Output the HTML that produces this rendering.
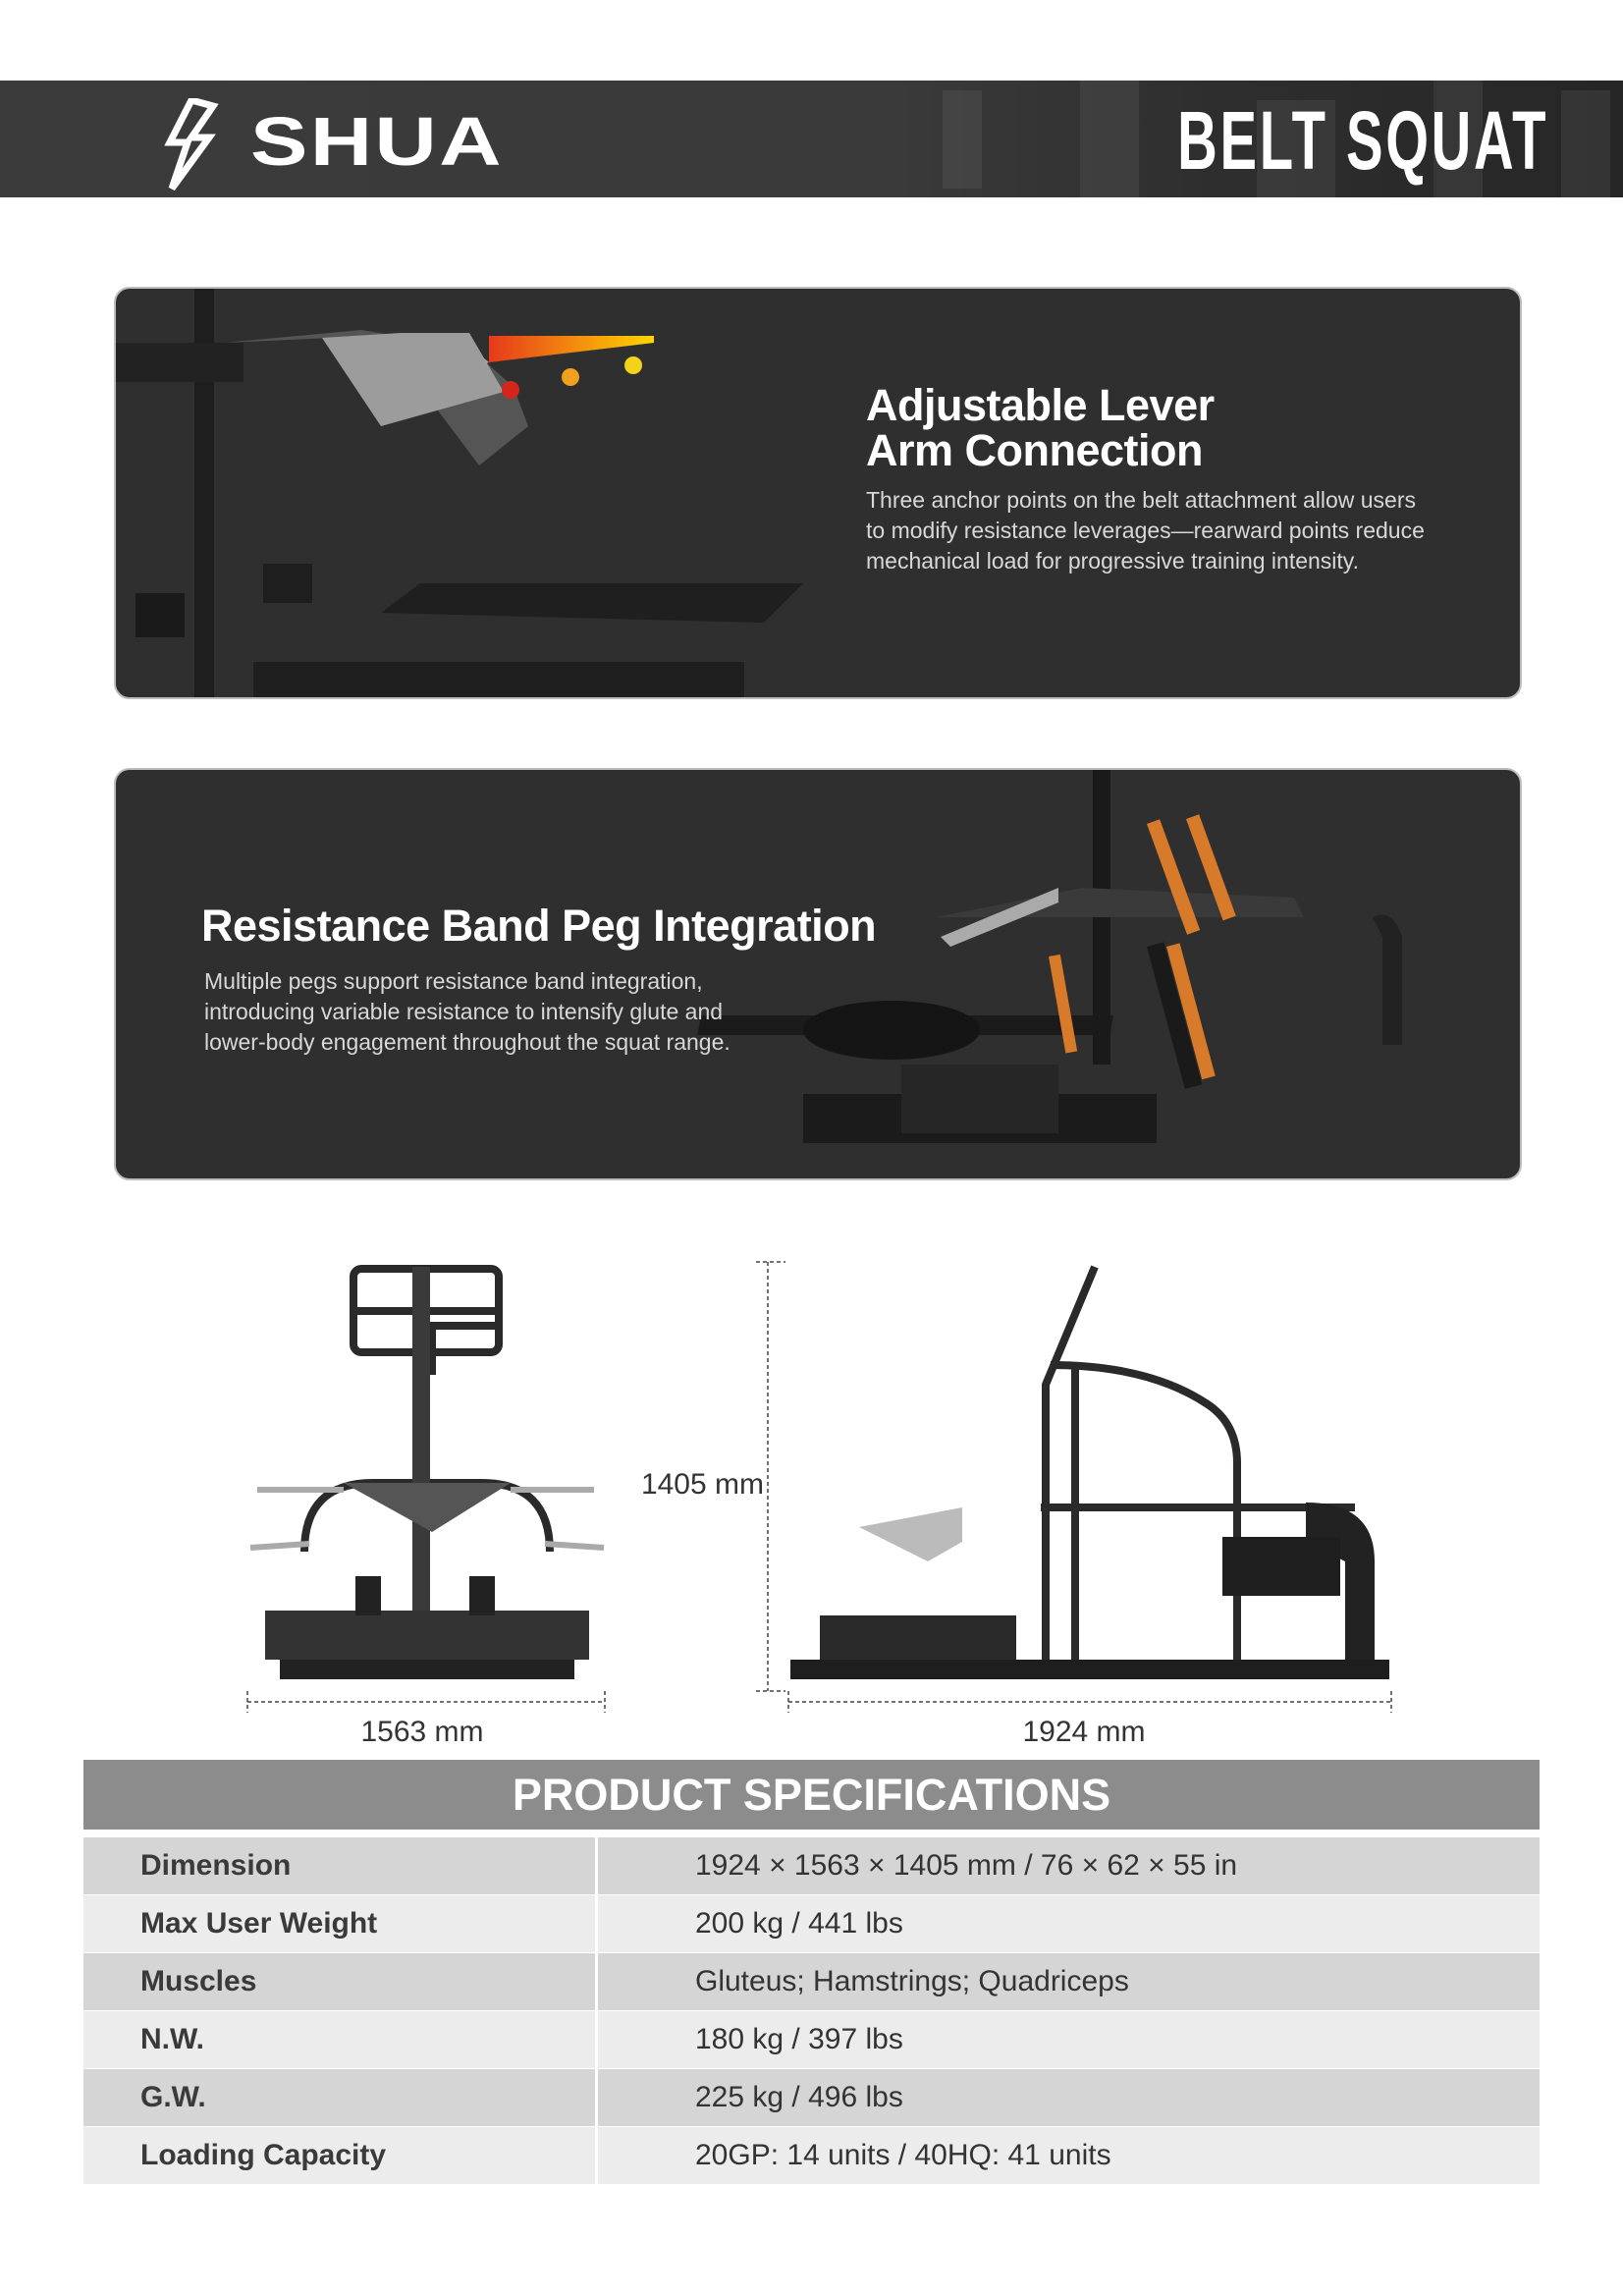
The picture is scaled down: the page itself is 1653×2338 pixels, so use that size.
<!DOCTYPE html>
<html><head><meta charset="utf-8"><style>
body{margin:0;width:1653px;height:2338px;background:#fff;position:relative;font-family:"Liberation Sans",sans-serif;overflow:hidden}
.a{position:absolute}
.hdr{left:0;top:82px;width:1653px;height:119px;background:linear-gradient(90deg,#3b3b3b 0%,#3a3a3a 55%,#2e2e2e 75%,#262626 100%)}
.panel{left:116px;width:1434px;height:420px;background:#2f2f2f;border-radius:16px;border:2px solid #bdbdbd;box-sizing:border-box;overflow:hidden}
.h{color:#fff;font-size:45px;font-weight:bold;line-height:46px;letter-spacing:-0.5px}
.p{color:#d8d8d8;font-size:23px;line-height:31px}
.row{left:85px;width:1483px;height:58px;font-size:30px;color:#333;line-height:58px}
.row span{position:absolute}
.l{left:58px;font-weight:bold;color:#3a3a3a}.v{left:623px}
.dk{background:#d5d5d5}.lt{background:#ececec}
.dim{font-size:30px;color:#333}
</style></head><body>
<div class="a hdr"></div>
<svg class="a" style="left:900px;top:82px" width="753" height="119"><g opacity="0.12" fill="#999"><rect x="60" y="10" width="40" height="100"/><rect x="200" y="0" width="60" height="119"/><rect x="380" y="20" width="80" height="99"/><rect x="560" y="0" width="50" height="119"/><rect x="690" y="10" width="50" height="109"/></g></svg>
<svg class="a" style="left:165px;top:100px" width="70" height="95"><path d="M30 2 L8 45 L26 45 L10 92 L48 40 L30 40 L52 8 Z" fill="none" stroke="#fff" stroke-width="7" stroke-linejoin="miter"/></svg>
<div class="a" style="left:255px;top:104px;color:#fff;font-size:70px;font-weight:bold;letter-spacing:2px;line-height:80px;transform:scaleX(1.25);transform-origin:left center">SHUA</div>
<div class="a" style="right:76px;top:98px;color:#fff;font-size:84px;font-weight:bold;letter-spacing:4px;line-height:90px;transform:scaleX(0.67);transform-origin:right center">BELT SQUAT</div>

<div class="a panel" style="top:292px">
<svg width="1434" height="420" style="position:absolute;left:0;top:0">
<rect x="80" y="0" width="20" height="420" fill="#1e1e1e"/>
<rect x="0" y="55" width="130" height="40" fill="#222"/>
<path d="M110 55 L220 50 L290 60 L310 100 L370 180 L420 140 L405 100 L360 60 L250 42 Z" fill="#555"/>
<path d="M240 60 L300 110 L380 75 L350 50 Z" fill="#a9a9a9"/>
<path d="M210 50 L270 140 L395 105 L360 45 L290 45 Z" fill="#9c9c9c"/>
<polygon points="380,48 548,48 548,55 380,75" fill="url(#g)"/>
<defs><linearGradient id="g"><stop offset="0" stop-color="#e53a1c"/><stop offset="1" stop-color="#ffd600"/></linearGradient></defs>
<circle cx="402" cy="103" r="9" fill="#d6261b"/><circle cx="463" cy="90" r="9" fill="#f0a01c"/><circle cx="527" cy="78" r="9" fill="#f2d21b"/>
<path d="M270 330 L310 300 L700 300 L660 340 Z" fill="#1f1f1f"/>
<rect x="140" y="380" width="500" height="40" fill="#1f1f1f"/>
<rect x="20" y="310" width="50" height="45" fill="#1a1a1a"/><rect x="150" y="280" width="50" height="40" fill="#1e1e1e"/>
</svg>
<div class="a h" style="left:764px;top:96px">Adjustable Lever<br>Arm Connection</div>
<div class="a p" style="left:764px;top:200px">Three anchor points on the belt attachment allow users<br>to modify resistance leverages—rearward points reduce<br>mechanical load for progressive training intensity.</div>
</div>

<div class="a panel" style="top:782px">
<svg width="1434" height="420" style="position:absolute;left:0;top:0">
<rect x="700" y="330" width="360" height="50" fill="#1b1b1b"/>
<rect x="640" y="250" width="420" height="20" fill="#1b1b1b" transform="skewX(-10)"/>
<ellipse cx="790" cy="265" rx="90" ry="30" fill="#151515"/>
<rect x="800" y="300" width="160" height="70" fill="#262626"/>
<rect x="995" y="0" width="18" height="300" fill="#1a1a1a"/>
<path d="M835 150 L985 120 L1200 130 L1210 150 L985 150 Z" fill="#3a3a3a"/>
<path d="M840 170 L960 120 L960 135 L850 180 Z" fill="#aaa"/>
<rect x="1050" y="180" width="18" height="150" fill="#1a1a1a" transform="rotate(-15 1050 180)"/>
<rect x="1050" y="55" width="14" height="120" fill="#d77a2a" transform="rotate(-20 1050 55)"/>
<rect x="1090" y="50" width="14" height="110" fill="#d77a2a" transform="rotate(-20 1090 50)"/>
<rect x="950" y="190" width="12" height="100" fill="#d77a2a" transform="rotate(-10 950 190)"/>
<rect x="1070" y="180" width="14" height="140" fill="#d77a2a" transform="rotate(-15 1070 180)"/>
<path d="M1280 150 Q1300 140 1310 170 L1310 280 L1290 280 L1290 170 Z" fill="#222"/>
</svg>
<div class="a h" style="left:87px;top:136px">Resistance Band Peg Integration</div>
<div class="a p" style="left:90px;top:200px">Multiple pegs support resistance band integration,<br>introducing variable resistance to intensify glute and<br>lower-body engagement throughout the squat range.</div>
</div>

<svg class="a" style="left:0;top:1270px" width="1653" height="480">
<g fill="none" stroke="#2a2a2a" stroke-width="8">
<rect x="360" y="22" width="148" height="85" rx="8"/>
<line x1="360" y1="65" x2="508" y2="65"/>
<path d="M310 310 Q310 240 380 240 L490 240 Q560 240 560 310"/>
<path d="M440 130 L440 80 L510 80"/>
</g>
<rect x="420" y="20" width="18" height="400" fill="#3a3a3a"/>
<path d="M350 240 L520 240 L440 290 Z" fill="#555"/>
<g stroke="#aaa" stroke-width="6"><line x1="262" y1="247" x2="350" y2="247"/><line x1="520" y1="247" x2="605" y2="247"/><line x1="255" y1="306" x2="315" y2="302"/><line x1="555" y1="302" x2="615" y2="306"/></g>
<rect x="270" y="370" width="330" height="50" fill="#333"/>
<rect x="285" y="420" width="300" height="20" fill="#222"/>
<rect x="362" y="335" width="26" height="40" fill="#222"/><rect x="478" y="335" width="26" height="40" fill="#222"/>
<g fill="none" stroke="#2a2a2a" stroke-width="8">
<path d="M1115 20 L1065 140 L1065 420"/>
<path d="M1070 120 Q1170 120 1230 160 Q1260 180 1260 220 L1260 420"/>
<line x1="1060" y1="265" x2="1380" y2="265"/>
<line x1="1095" y1="120" x2="1095" y2="420"/>
</g>
<path d="M875 285 L980 265 L980 300 L945 320 Z" fill="#bbb"/>
<path d="M1330 260 Q1400 260 1400 320 L1400 440 L1370 440 L1370 320 L1330 300 Z" fill="#222"/>
<rect x="1245" y="295" width="120" height="60" fill="#1e1e1e"/>
<rect x="835" y="375" width="200" height="50" fill="#2a2a2a"/>
<rect x="805" y="420" width="610" height="20" fill="#1e1e1e"/>
<g stroke="#444" stroke-width="1.5" stroke-dasharray="4,3" fill="none">
<line x1="252" y1="463" x2="616" y2="463"/><line x1="252" y1="452" x2="252" y2="474"/><line x1="616" y1="452" x2="616" y2="474"/>
<line x1="803" y1="463" x2="1417" y2="463"/><line x1="803" y1="452" x2="803" y2="474"/><line x1="1417" y1="452" x2="1417" y2="474"/>
<line x1="782" y1="15" x2="782" y2="452"/><line x1="770" y1="15" x2="800" y2="15"/><line x1="770" y1="452" x2="800" y2="452"/>
</g>
</svg>
<div class="a dim" style="left:330px;top:1747px;width:200px;text-align:center">1563 mm</div>
<div class="a dim" style="left:1004px;top:1747px;width:200px;text-align:center">1924 mm</div>
<div class="a dim" style="left:580px;top:1495px;width:198px;text-align:right">1405 mm</div>

<div class="a" style="left:85px;top:1792px;width:1483px;height:71px;background:#8c8c8c;color:#fff;font-size:45px;font-weight:bold;text-align:center;line-height:71px">PRODUCT SPECIFICATIONS</div>
<div class="a row dk" style="top:1871px"><span class="l">Dimension</span><span class="v">1924 × 1563 × 1405 mm / 76 × 62 × 55 in</span></div>
<div class="a row lt" style="top:1930px"><span class="l">Max User Weight</span><span class="v">200 kg / 441 lbs</span></div>
<div class="a row dk" style="top:1989px"><span class="l">Muscles</span><span class="v">Gluteus; Hamstrings; Quadriceps</span></div>
<div class="a row lt" style="top:2048px"><span class="l">N.W.</span><span class="v">180 kg / 397 lbs</span></div>
<div class="a row dk" style="top:2107px"><span class="l">G.W.</span><span class="v">225 kg / 496 lbs</span></div>
<div class="a row lt" style="top:2166px"><span class="l">Loading Capacity</span><span class="v">20GP: 14 units / 40HQ: 41 units</span></div>
<div class="a" style="left:606px;top:1871px;width:3px;height:353px;background:#fff"></div>
</body></html>
